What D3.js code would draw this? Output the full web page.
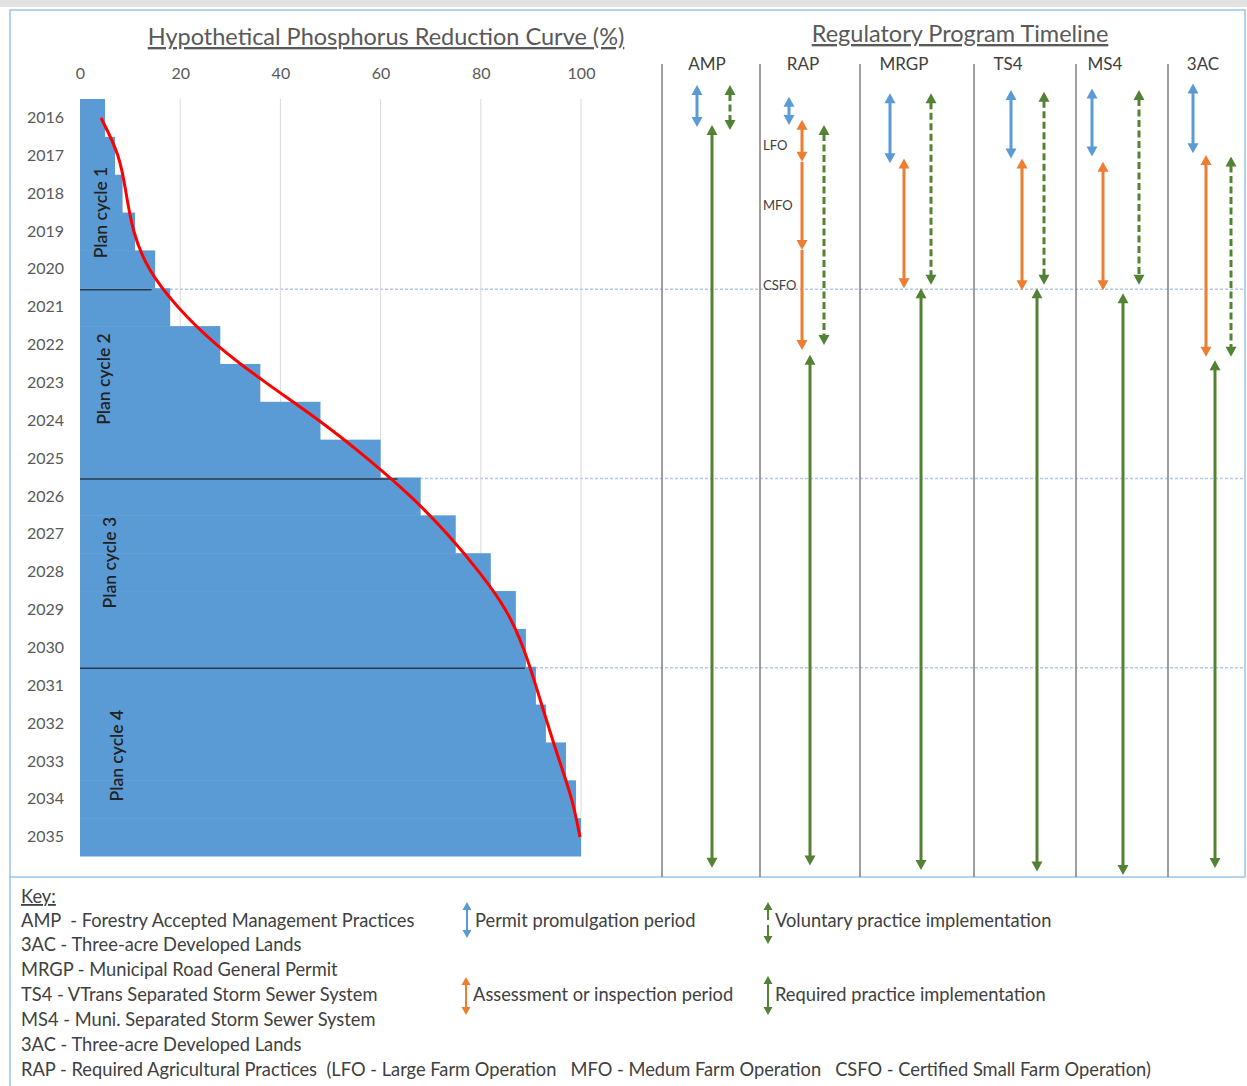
<!DOCTYPE html>
<html>
<head>
<meta charset="utf-8">
<script src="https://cdn.jsdelivr.net/npm/d3@7"></script>
<style>
  body { margin: 0; background: #fff; }
  svg { display: block; font-family: Lato, "Noto Sans", sans-serif; }
  text { white-space: pre; }
</style>
</head>
<body>
<svg id="chart" width="1247" height="1086"></svg>
<script>
// ---------- data ----------
const years = [2016, 2017, 2018, 2019, 2020, 2021, 2022, 2023, 2024, 2025,
               2026, 2027, 2028, 2029, 2030, 2031, 2032, 2033, 2034, 2035];
// cumulative reduction, stepped bars (%)
const reductionSteps = [5, 7, 8.5, 11, 15, 18, 28, 36, 48, 60,
                        68, 75, 82, 87, 89, 91, 93, 97, 99, 100];
// smooth red reduction curve (%)
const reductionCurve = [4.2, 8, 9.2, 10.5, 13.4, 19.3, 27, 37, 48, 57.5,
                        66.2, 73.5, 79.8, 85.3, 88.6, 91, 93.3, 95.7, 98.3, 99.8];
const xTicks = [0, 20, 40, 60, 80, 100];

const planCycles = ["Plan cycle 1", "Plan cycle 2", "Plan cycle 3", "Plan cycle 4"];
const cycleBreaks = [2020.5, 2025.5, 2030.5];
const cycleBreakReach = [14.3, 63.4, 88.8];   // % where the divider stops

const programs = ["AMP", "RAP", "MRGP", "TS4", "MS4", "3AC"];
// periods as [start year, end year]; null = not shown
const permitPeriod = [[2015.13, 2016.24], [2015.44, 2016.19], [2015.35, 2017.20],
                      [2015.26, 2017.07], [2015.22, 2017.02], [2015.09, 2016.93]];
const assessPeriod = [null, [2016.05, 2022.13], [2017.07, 2020.50],
                      [2017.07, 2020.55], [2017.16, 2020.55], [2016.98, 2022.31]];
const voluntaryPeriod = [[2015.13, 2016.32], [2016.19, 2022.00], [2015.35, 2020.41],
                         [2015.31, 2020.41], [2015.26, 2020.41], [2017.02, 2022.31]];
const requiredPeriod = [[2016.19, 2035.81], [2022.26, 2035.75], [2020.50, 2035.87],
                        [2020.50, 2035.91], [2020.63, 2036.00], [2022.40, 2035.82]];
// RAP assessment split by farm size
const rapFarmTypes = ["LFO", "MFO", "CSFO"];
const rapFarmEnds = [2017.16, 2019.49, 2022.13];

const keyLines = [
  "AMP  - Forestry Accepted Management Practices",
  "3AC - Three-acre Developed Lands",
  "MRGP - Municipal Road General Permit",
  "TS4 - VTrans Separated Storm Sewer System",
  "MS4 - Muni. Separated Storm Sewer System",
  "3AC - Three-acre Developed Lands",
  "RAP - Required Agricultural Practices  (LFO - Large Farm Operation   MFO - Medum Farm Operation   CSFO - Certified Small Farm Operation)"
];
const legendItems = [
  { label: "Permit promulgation period", kind: "permit" },
  { label: "Voluntary practice implementation", kind: "voluntary" },
  { label: "Assessment or inspection period", kind: "assess" },
  { label: "Required practice implementation", kind: "required" }
];

// ---------- layout (not data) ----------
const colors = {
  bar: "#5b9bd5", curve: "#ff0000", permit: "#5b9bd5", assess: "#ed7d31",
  voluntary: "#548235", required: "#548235", text: "#404040", axis: "#595959"
};
// left edge of each timeline column and x offsets of label / lanes inside it
const columns = {
  AMP:  { left: 662,  label: 45, permit: 35, required: 50, voluntary: 68 },
  RAP:  { left: 760,  label: 43, permit: 29, assess: 42, required: 50, voluntary: 64 },
  MRGP: { left: 860,  label: 44, permit: 30, assess: 44, required: 61, voluntary: 71 },
  TS4:  { left: 974,  label: 34, permit: 37, assess: 48, required: 63, voluntary: 70 },
  MS4:  { left: 1076, label: 29, permit: 16, assess: 27, required: 47, voluntary: 63 },
  "3AC":{ left: 1168, label: 35, permit: 25, assess: 38, required: 47, voluntary: 63 }
};
const frameRight = 1245, frameBottom = 877;
const cycleLabelAt = [[2018.5, 101], [2022.9, 104], [2027.75, 110], [2032.85, 117]]; // [year, px]
const rapLabelYear = [2016.72, 2018.3, 2020.42];

const svg = d3.select("#chart");

// scales
const x = d3.scaleLinear().domain([0, 100]).range([80, 581]);
const yBand = d3.scaleBand().domain(years).range([99, 856]).padding(0);
const yTime = d3.scaleLinear().domain([2015.5, 2035.5]).range([99, 856]);

// spreadsheet header strip + frame
svg.append("rect").attr("x", 0).attr("y", 0).attr("width", 1247).attr("height", 7)
  .attr("fill", "#e3e3e3");
svg.append("rect")
  .attr("x", 10).attr("y", 10)
  .attr("width", frameRight - 10).attr("height", frameBottom - 10)
  .attr("fill", "none").attr("stroke", "#9dc3e6").attr("stroke-width", 1.5);
svg.append("line").attr("x1", 10).attr("x2", 10).attr("y1", frameBottom).attr("y2", 1086)
  .attr("stroke", "#9dc3e6").attr("stroke-width", 1.5);

// dotted cycle break lines across the whole figure
svg.append("g").selectAll("line")
  .data(cycleBreaks)
  .join("line")
  .attr("x1", x(0)).attr("x2", frameRight)
  .attr("y1", d => yTime(d) + 1).attr("y2", d => yTime(d) + 1)
  .attr("stroke", "#b4c7e7").attr("stroke-width", 1.3)
  .attr("stroke-dasharray", "3,2");

// vertical gridlines
svg.append("g").selectAll("line")
  .data(xTicks.filter(d => d > 0))
  .join("line")
  .attr("x1", d => x(d)).attr("x2", d => x(d))
  .attr("y1", yBand.range()[0]).attr("y2", yBand.range()[1])
  .attr("stroke", "#d9d9d9").attr("stroke-width", 1);

// stepped bars
svg.append("g").selectAll("rect")
  .data(years.map((yr, i) => ({ yr, v: reductionSteps[i] })))
  .join("rect")
  .attr("x", x(0))
  .attr("y", d => yBand(d.yr))
  .attr("width", d => x(d.v) - x(0))
  .attr("height", yBand.bandwidth() + 0.5)
  .attr("fill", colors.bar);

// plan cycle dividers
svg.append("g").selectAll("line")
  .data(cycleBreaks.map((b, i) => ({ b, reach: cycleBreakReach[i] })))
  .join("line")
  .attr("x1", x(0)).attr("x2", d => x(d.reach))
  .attr("y1", d => yTime(d.b) + 1.5).attr("y2", d => yTime(d.b) + 1.5)
  .attr("stroke", "#2b3a4a").attr("stroke-width", 1.6);

// plan cycle labels
svg.append("g").selectAll("text")
  .data(planCycles.map((t, i) => ({ t, at: cycleLabelAt[i] })))
  .join("text")
  .attr("transform", d => `translate(${d.at[1]},${yTime(d.at[0])}) rotate(-90)`)
  .attr("text-anchor", "middle").attr("dy", "0.35em")
  .attr("font-size", 17.5).attr("font-weight", 600).attr("fill", "#222")
  .text(d => d.t);

// red reduction curve
const curveLine = d3.line()
  .x(d => x(d.v))
  .y(d => yBand(d.yr) + yBand.bandwidth() / 2)
  .curve(d3.curveBasis);
svg.append("path")
  .datum(years.map((yr, i) => ({ yr, v: reductionCurve[i] })))
  .attr("d", curveLine)
  .attr("fill", "none").attr("stroke", colors.curve).attr("stroke-width", 3);

// axes
const xAxisG = svg.append("g").attr("transform", "translate(0,79)")
  .call(d3.axisTop(x).tickValues(xTicks).tickSize(0).tickPadding(0));
const yAxisG = svg.append("g").attr("transform", "translate(64,0)")
  .call(d3.axisLeft(yBand).tickSize(0).tickPadding(0));
[xAxisG, yAxisG].forEach(g => {
  g.select(".domain").remove();
  g.selectAll("text").attr("font-size", 16).attr("fill", colors.axis)
    .attr("font-family", "Lato, sans-serif");
});

// titles
svg.append("text").attr("x", 386).attr("y", 45).attr("text-anchor", "middle")
  .attr("font-size", 23.5).attr("fill", colors.axis)
  .style("text-decoration", "underline")
  .text("Hypothetical Phosphorus Reduction Curve (%)");
svg.append("text").attr("x", 960).attr("y", 42).attr("text-anchor", "middle")
  .attr("font-size", 23.5).attr("fill", colors.axis)
  .style("text-decoration", "underline")
  .text("Regulatory Program Timeline");

// ---------- timeline ----------
function drawArrow(g, cx, yTop, yBot, color, opts = {}) {
  const hw = opts.headW || 5.5, hl = opts.headL || 10, sw = opts.width || 3;
  g.append("line")
    .attr("x1", cx).attr("x2", cx)
    .attr("y1", yTop + (opts.noTop ? 0 : hl - 1)).attr("y2", yBot - hl + 1)
    .attr("stroke", color).attr("stroke-width", sw)
    .attr("stroke-dasharray", opts.dashed ? opts.dashed : null);
  if (!opts.noTop) {
    g.append("path")
      .attr("d", `M${cx},${yTop}L${cx - hw},${yTop + hl}L${cx + hw},${yTop + hl}Z`)
      .attr("fill", color);
  }
  g.append("path")
    .attr("d", `M${cx},${yBot}L${cx - hw},${yBot - hl}L${cx + hw},${yBot - hl}Z`)
    .attr("fill", color);
}

const tl = svg.append("g");

// column separators
tl.selectAll("line.sep")
  .data(programs)
  .join("line")
  .attr("class", "sep")
  .attr("x1", p => columns[p].left).attr("x2", p => columns[p].left)
  .attr("y1", 64).attr("y2", frameBottom)
  .attr("stroke", "#7f7f7f").attr("stroke-width", 1.5);

// column labels
tl.selectAll("text.col")
  .data(programs)
  .join("text")
  .attr("class", "col")
  .attr("x", p => columns[p].left + columns[p].label)
  .attr("y", 70).attr("text-anchor", "middle")
  .attr("font-size", 17).attr("fill", colors.text)
  .text(p => p);

programs.forEach((p, i) => {
  const c = columns[p];
  const g = tl.append("g");
  drawArrow(g, c.left + c.permit, yTime(permitPeriod[i][0]), yTime(permitPeriod[i][1]), colors.permit);
  drawArrow(g, c.left + c.voluntary, yTime(voluntaryPeriod[i][0]), yTime(voluntaryPeriod[i][1]),
    colors.voluntary, { dashed: "7,3.5" });
  drawArrow(g, c.left + c.required, yTime(requiredPeriod[i][0]), yTime(requiredPeriod[i][1]), colors.required);
  if (assessPeriod[i]) {
    if (p === "RAP") {
      // one line split into LFO / MFO / CSFO segments
      let start = assessPeriod[i][0];
      rapFarmEnds.forEach((end, k) => {
        drawArrow(g, c.left + c.assess, yTime(start), yTime(end), colors.assess, { noTop: k > 0 });
        start = end;
      });
    } else {
      drawArrow(g, c.left + c.assess, yTime(assessPeriod[i][0]), yTime(assessPeriod[i][1]), colors.assess);
    }
  }
});

// RAP farm size labels
tl.selectAll("text.farm")
  .data(rapFarmTypes.map((t, k) => ({ t, yr: rapLabelYear[k] })))
  .join("text")
  .attr("class", "farm")
  .attr("x", columns.RAP.left + 3).attr("y", d => yTime(d.yr))
  .attr("dy", "0.35em").attr("font-size", 13).attr("fill", colors.text)
  .text(d => d.t);

// ---------- key ----------
const key = svg.append("g").attr("font-size", 18.3).attr("fill", colors.text);
key.append("text").attr("x", 21).attr("y", 903)
  .style("text-decoration", "underline").text("Key:");
key.selectAll("text.kl")
  .data(keyLines)
  .join("text")
  .attr("class", "kl")
  .attr("x", 21).attr("y", (d, i) => 926.5 + i * 24.9)
  .text(d => d);

const legendPos = {
  permit:    { ax: 467, top: 902, bot: 938, tx: 475, ty: 927 },
  voluntary: { ax: 768, top: 902, bot: 944, tx: 775, ty: 927 },
  assess:    { ax: 466, top: 977, bot: 1015, tx: 473, ty: 1001 },
  required:  { ax: 768, top: 976, bot: 1015, tx: 775, ty: 1001 }
};
legendItems.forEach(item => {
  const lp = legendPos[item.kind];
  const g = key.append("g");
  drawArrow(g, lp.ax, lp.top, lp.bot, colors[item.kind],
    { headW: 4.5, headL: 8, width: 2, dashed: item.kind === "voluntary" ? "11,5" : null });
  g.append("text").attr("x", lp.tx).attr("y", lp.ty).text(item.label);
});
</script>
</body>
</html>
